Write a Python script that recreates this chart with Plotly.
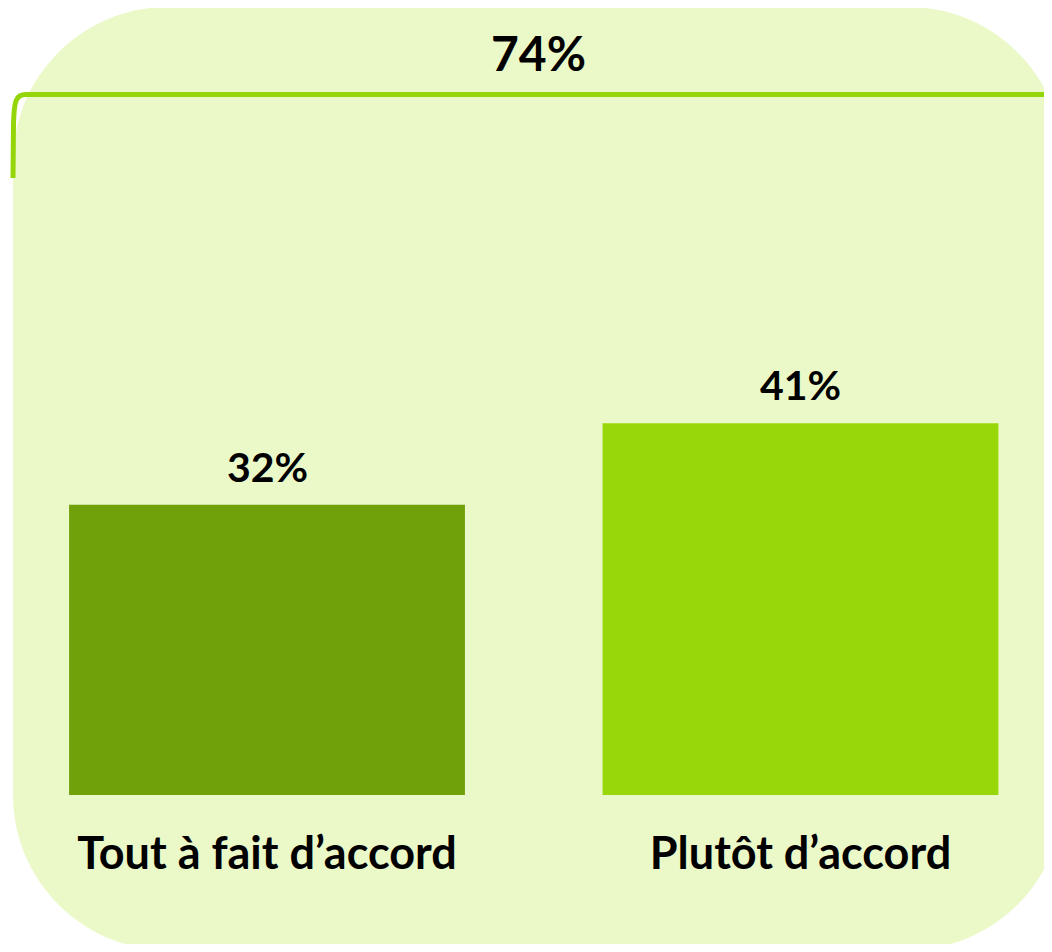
import plotly.graph_objects as go

# page body has an 8px margin, so the figure is drawn 8px in from the corner;
# keep it short enough that no scrollbar appears
OFF = 8
W, H = 1052 - OFF, 952 - 2 * OFF

categories = ["Tout à fait d’accord", "Plutôt d’accord"]
values = [32, 41]
total_label = "74%"
bar_colors = ["#70A00A", "#98D80A"]

BG = "#EBF9C9"
BRACKET = "#94D60A"
FONT = "Lato"


def px(x):
    return (x - OFF) / W


def py(y):
    return 1 - (y - OFF) / H


def rounded_rect(left, top, right, bottom, r):
    k = 0.5523 * r
    pts = [
        ("M", [(left + r, top)]),
        ("L", [(right - r, top)]),
        ("C", [(right - r + k, top), (right, top + r - k), (right, top + r)]),
        ("L", [(right, bottom - r)]),
        ("C", [(right, bottom - r + k), (right - r + k, bottom), (right - r, bottom)]),
        ("L", [(left + r, bottom)]),
        ("C", [(left + r - k, bottom), (left, bottom - r + k), (left, bottom - r)]),
        ("L", [(left, top + r)]),
        ("C", [(left, top + r - k), (left + r - k, top), (left + r, top)]),
    ]
    s = ""
    for cmd, coords in pts:
        s += cmd + " " + " ".join(f"{px(x):.5f},{py(y):.5f}" for x, y in coords) + " "
    return s + "Z"


bracket_path = (
    f"M {px(13):.5f},{py(178):.5f} L {px(13.5):.5f},{py(125):.5f} "
    f"C {px(14):.5f},{py(100):.5f} {px(16):.5f},{py(94.5):.5f} {px(26):.5f},{py(94.5):.5f} "
    f"L {px(1060):.5f},{py(94.5):.5f}"
)

baseline = 795 - OFF  # bar baseline in figure pixels
px_per_unit = 9.07
cat_step = 533.5
first_cat = 267 - OFF

fig = go.Figure(
    go.Bar(
        x=categories,
        y=values,
        marker_color=bar_colors,
        marker_line_width=0,
        showlegend=False,
        hoverinfo="skip",
    )
)

for cat, v in zip(categories, values):
    fig.add_annotation(
        x=cat,
        y=v,
        text=f"{v}%",
        showarrow=False,
        xanchor="center",
        yanchor="bottom",
        yshift=12,
        font=dict(family=FONT, size=41, color="black", weight="bold"),
    )

fig.add_annotation(
    x=px(538),
    y=py(52),
    xref="paper",
    yref="paper",
    text=total_label,
    showarrow=False,
    xanchor="center",
    yanchor="middle",
    font=dict(family=FONT, size=48, color="black", weight="bold"),
)

fig.update_layout(
    width=W,
    height=H,
    margin=dict(l=0, r=0, t=0, b=0),
    paper_bgcolor="white",
    plot_bgcolor="rgba(0,0,0,0)",
    bargap=0.258,
    shapes=[
        dict(
            type="path",
            path=rounded_rect(13, 7, 1063, 950, 155),
            xref="paper",
            yref="paper",
            fillcolor=BG,
            line_width=0,
            layer="below",
        ),
        dict(
            type="path",
            path=bracket_path,
            xref="paper",
            yref="paper",
            line=dict(color=BRACKET, width=5),
            layer="above",
        ),
    ],
    xaxis=dict(
        range=[-first_cat / cat_step, (W - first_cat) / cat_step],
        showgrid=False,
        zeroline=False,
        showline=False,
        ticks="",
        ticklabelstandoff=28,
        tickfont=dict(family=FONT, size=45, color="black", weight="bold"),
        fixedrange=True,
    ),
    yaxis=dict(
        domain=[1 - (baseline - 0) / H, 1],
        range=[0, baseline / px_per_unit],
        visible=False,
        fixedrange=True,
    ),
)

fig.write_html("out.html")
